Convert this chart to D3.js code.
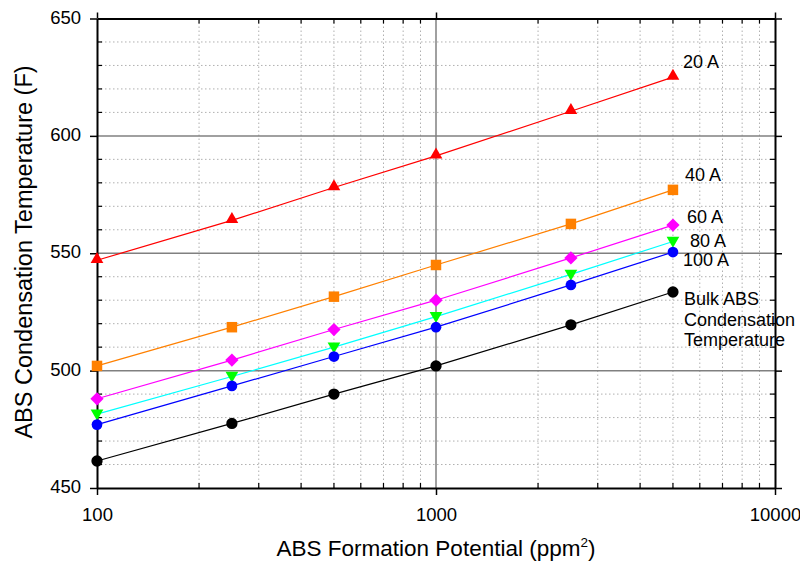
<!DOCTYPE html>
<html><head><meta charset="utf-8">
<script src="https://cdn.jsdelivr.net/npm/d3@7"></script>
<style>body{margin:0;background:#fff}svg{display:block}text{font-family:"Liberation Sans",Arial,sans-serif;fill:#000}</style>
</head><body><svg id="c" width="800" height="572"></svg>
<script>
const xValues = [100, 250, 500, 1000, 2500, 5000];
const seriesNames = ["20 A", "40 A", "60 A", "80 A", "100 A", "Bulk ABS Condensation Temperature"];
const s20 = [547, 564, 578, 591.5, 610.5, 625];
const s40 = [502, 518.5, 531.5, 545, 562.5, 577];
const s60 = [488, 504.5, 517.5, 530, 548, 562];
const s80 = [481.5, 497.5, 510, 523, 541, 555];
const s100 = [477, 493.5, 506, 518.5, 536.5, 550.5];
const sBulk = [461.5, 477.5, 490, 502, 519.5, 533.5];
const xTickLabels = [100, 1000, 10000];
const yTickLabels = [450, 500, 550, 600, 650];

const styles = [
  {line:"#ff0000", fill:"#ff0000", sym:d3.symbolTriangle, size:70, rot:0, dy:-1, label:["20 A"], lx:683, ly:[68]},
  {line:"#ff8000", fill:"#ff8000", sym:d3.symbolSquare, size:110, rot:0, dy:0, label:["40 A"], lx:685, ly:[181]},
  {line:"#ff00ff", fill:"#ff00ff", sym:d3.symbolSquare, size:88, rot:45, dy:0, label:["60 A"], lx:687, ly:[223]},
  {line:"#00ffff", fill:"#00ff00", sym:d3.symbolTriangle, size:70, rot:180, dy:-1, label:["80 A"], lx:690, ly:[247]},
  {line:"#0000ff", fill:"#0000ff", sym:d3.symbolCircle, size:90, rot:0, dy:0, label:["100 A"], lx:683, ly:[266]},
  {line:"#000000", fill:"#000000", sym:d3.symbolCircle, size:100, rot:0, dy:0, label:["Bulk ABS","Condensation","Temperature"], lx:684, ly:[305,326,346]}
];
const data = [s20, s40, s60, s80, s100, sBulk];

const L = 97, R = 775, T = 18.5, B = 488;
const svg = d3.select("#c");
const x = d3.scaleLog().domain([100, 10000]).range([L, R]);
const y = d3.scaleLinear().domain([450, 650]).range([B, T]);

const minorX = [];
[100, 1000].forEach(d => { for (let k = 2; k <= 9; k++) minorX.push(d * k); });
const minorY = d3.range(460, 650, 10).filter(v => v % 50 !== 0);
const majorYInner = [500, 550, 600];

const g = svg.append("g");
g.selectAll(".mx").data(minorX).join("line")
  .attr("x1", d => x(d)).attr("x2", d => x(d)).attr("y1", T).attr("y2", B)
  .attr("stroke", "#b0b0b0").attr("stroke-width", 1).attr("stroke-dasharray", "1.5,2.5");
g.selectAll(".my").data(minorY).join("line")
  .attr("y1", d => y(d)).attr("y2", d => y(d)).attr("x1", L).attr("x2", R)
  .attr("stroke", "#b0b0b0").attr("stroke-width", 1).attr("stroke-dasharray", "1.5,2.5");
g.selectAll(".My").data(majorYInner).join("line")
  .attr("y1", d => y(d)).attr("y2", d => y(d)).attr("x1", L).attr("x2", R)
  .attr("stroke", "#808080").attr("stroke-width", 1.5);
g.append("line").attr("x1", x(1000)).attr("x2", x(1000)).attr("y1", T).attr("y2", B)
  .attr("stroke", "#808080").attr("stroke-width", 1.5);

const axB = d3.axisBottom(x).tickValues(xTickLabels).tickFormat(d3.format("d")).tickSizeInner(7).tickSizeOuter(0).tickPadding(13);
const gB = svg.append("g").attr("transform", `translate(0,${B})`).call(axB);
const axL = d3.axisLeft(y).tickValues(yTickLabels).tickSizeInner(7).tickSizeOuter(0).tickPadding(9);
const gL = svg.append("g").attr("transform", `translate(${L},0)`).call(axL);
const axT = d3.axisTop(x).tickValues(xTickLabels).tickFormat("").tickSizeInner(6).tickSizeOuter(0);
const gT = svg.append("g").attr("transform", `translate(0,${T})`).call(axT);
const axR = d3.axisRight(y).tickValues(yTickLabels).tickFormat("").tickSizeInner(7).tickSizeOuter(0);
const gR = svg.append("g").attr("transform", `translate(${R},0)`).call(axR);
[gB, gL, gT, gR].forEach(ga => {
  ga.select(".domain").attr("stroke", "#000").attr("stroke-width", 2);
  ga.selectAll(".tick line").attr("stroke", "#000").attr("stroke-width", 1.5);
  ga.selectAll("text").style("font-size", "18.5px").attr("fill", "#000").style("font-family", "'Liberation Sans',Arial,sans-serif");
});
gL.selectAll("text").attr("dy", "0.25em");
const minorTicks = svg.append("g");
minorX.forEach(v => {
  minorTicks.append("line").attr("x1", x(v)).attr("x2", x(v)).attr("y1", B).attr("y2", B - 5).attr("stroke", "#000").attr("stroke-width", 1.2);
  minorTicks.append("line").attr("x1", x(v)).attr("x2", x(v)).attr("y1", T).attr("y2", T + 5).attr("stroke", "#000").attr("stroke-width", 1.2);
});
minorY.forEach(v => {
  minorTicks.append("line").attr("x1", L).attr("x2", L + 5).attr("y1", y(v)).attr("y2", y(v)).attr("stroke", "#000").attr("stroke-width", 1.2);
  minorTicks.append("line").attr("x1", R).attr("x2", R - 5).attr("y1", y(v)).attr("y2", y(v)).attr("stroke", "#000").attr("stroke-width", 1.2);
});

const line = d3.line().x(d => x(d[0])).y(d => y(d[1]));
data.forEach((vals, i) => {
  const st = styles[i];
  const pts = xValues.map((xv, j) => [xv, vals[j]]);
  svg.append("path").datum(pts).attr("d", line).attr("fill", "none").attr("stroke", st.line).attr("stroke-width", 1.2);
  svg.append("g").selectAll("path").data(pts).join("path")
    .attr("d", d3.symbol().type(st.sym).size(st.size))
    .attr("transform", d => `translate(${x(d[0])},${y(d[1]) + st.dy}) rotate(${st.rot})`)
    .attr("fill", st.fill);
  st.label.forEach((t, k) => {
    svg.append("text").attr("x", st.lx).attr("y", st.ly[k]).style("font-size", "18px").text(t);
  });
});

svg.append("text").attr("x", (L + R) / 2).attr("y", 556).attr("text-anchor", "middle").style("font-size", "22.5px")
  .html('ABS Formation Potential (ppm<tspan dy="-9" style="font-size:13.5px">2</tspan><tspan dy="9">)</tspan>');
svg.append("text").attr("transform", `translate(32,252) rotate(-90)`).attr("text-anchor", "middle").style("font-size", "23.5px")
  .text("ABS Condensation Temperature (F)");
</script></body></html>
